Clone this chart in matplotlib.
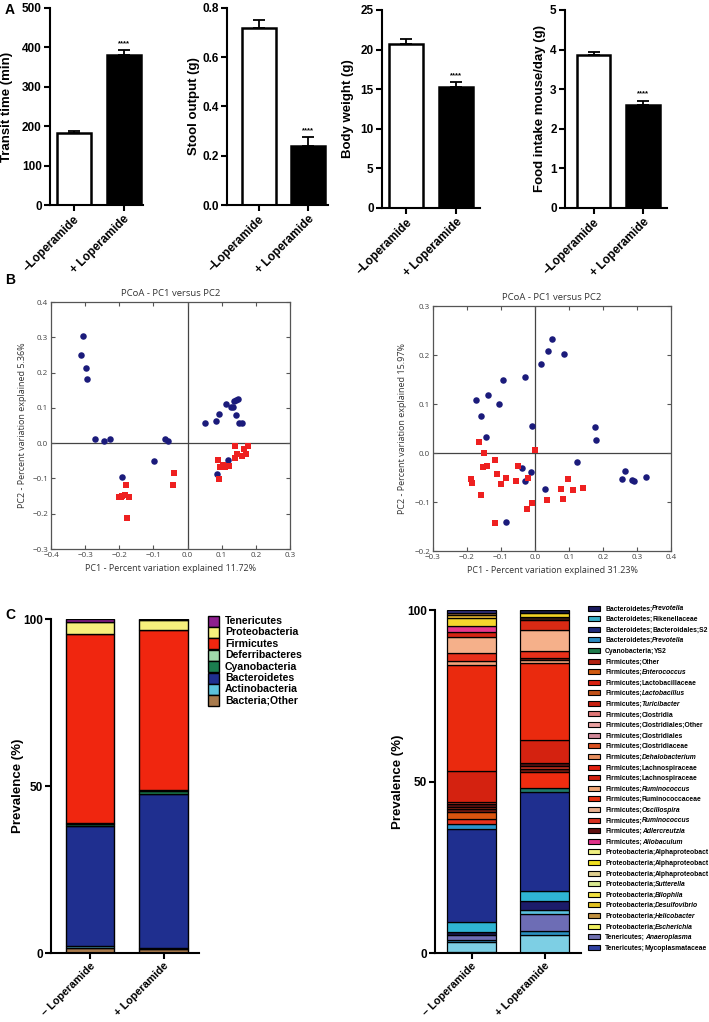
import matplotlib
matplotlib.use("Agg")
import matplotlib.pyplot as plt
from matplotlib.patches import Rectangle

plt.rcParams["font.family"] = ["Liberation Sans", "DejaVu Sans"]

# ---- panel A data (mean, sem) ----
groups_a = ["\u2013Loperamide", "+ Loperamide"]
transit_mean = [183, 380]
transit_sem = [4, 13]
stool_mean = [0.72, 0.24]
stool_sem = [0.03, 0.035]
weight_mean = [20.7, 15.3]
weight_sem = [0.6, 0.6]
food_mean = [3.87, 2.59]
food_sem = [0.08, 0.12]

# ---- panel B data (PC1, PC2) ----
b1_blue_x = [-0.305, -0.312, -0.297, -0.295, -0.270, -0.245, -0.226, -0.067, -0.056, -0.098,
             -0.192, 0.051, 0.082, 0.091, 0.113, 0.128, 0.132, 0.137, 0.142, 0.147,
             0.143, 0.151, 0.159, 0.118, 0.086]
b1_blue_y = [0.304, 0.251, 0.213, 0.183, 0.013, 0.006, 0.011, 0.013, 0.005, -0.051,
             -0.096, 0.057, 0.063, 0.084, 0.112, 0.103, 0.103, 0.120, 0.123, 0.125,
             0.080, 0.058, 0.058, -0.047, -0.087]
b1_red_x = [-0.200, -0.192, -0.184, -0.171, -0.179, -0.177, -0.196, -0.040, -0.044, 0.139,
            0.138, 0.146, 0.159, 0.165, 0.177, 0.171, 0.090, 0.095, 0.103, 0.111,
            0.122, 0.092]
b1_red_y = [-0.154, -0.149, -0.147, -0.154, -0.118, -0.211, -0.152, -0.086, -0.118, -0.008,
            -0.043, -0.032, -0.037, -0.016, -0.009, -0.030, -0.047, -0.067, -0.063, -0.067,
            -0.066, -0.101]

b2_blue_x = [0.051, 0.039, 0.085, 0.018, -0.028, -0.093, -0.139, -0.173, -0.105, -0.160,
             -0.009, -0.144, 0.177, 0.180, 0.124, -0.039, -0.013, -0.030, 0.028, -0.086,
             0.256, 0.266, 0.285, 0.291, 0.325]
b2_blue_y = [0.232, 0.208, 0.203, 0.181, 0.156, 0.149, 0.119, 0.109, 0.099, 0.075,
             0.055, 0.032, 0.054, 0.026, -0.018, -0.030, -0.039, -0.058, -0.074, -0.140,
             -0.054, -0.036, -0.055, -0.058, -0.048]
b2_red_x = [-0.165, -0.151, -0.154, -0.140, -0.118, -0.111, -0.084, -0.100, -0.187, -0.186,
            -0.159, -0.119, -0.057, -0.050, -0.022, -0.025, -0.008, 0.000, 0.035, 0.076,
            0.082, 0.096, 0.113, 0.141]
b2_red_y = [0.022, 0.000, -0.029, -0.027, -0.014, -0.042, -0.051, -0.063, -0.054, -0.062,
            -0.086, -0.142, -0.058, -0.026, -0.051, -0.115, -0.102, 0.006, -0.095, -0.073,
            -0.094, -0.053, -0.075, -0.071]

# ---- panel C data (prevalence %) ----
groups_c = ["\u2013 Loperamide", "+ Loperamide"]
phyla = ["Bacteria;Other", "Actinobacteria", "Bacteroidetes", "Cyanobacteria",
         "Deferribacteres", "Firmicutes", "Proteobacteria", "Tenericutes"]
phyla_colors = ["#a87a4c", "#5cc2dc", "#1f2f8f", "#1b7d4f", "#9fd8aa", "#f0260f",
                "#f7f07c", "#8e1f8e"]
phyla_minus = [1.5, 0.5, 35.9, 0.6, 0.3, 56.8, 3.6, 0.8]
phyla_plus = [1.3, 0.3, 46.0, 0.9, 0.3, 48.0, 3.0, 0.2]

genus_minus = [0.4, 2.8, 0.5, 1.5, 0.8, 2.9, 27.3, 1.4, 1.5, 2.1, 0.7, 0.8, 0.7, 0.7,
               9.0, 30.9, 1.0, 2.5, 4.6, 1.5, 1.8, 2.4, 0.8, 0.6, 0.8]
genus_minus_colors = ["#2b3a8c", "#7dcfe4", "#2a84b8", "#6d6db5", "#16184a", "#2fb4d4",
                      "#1f2f8f", "#2a95cc", "#e8321c", "#d9540f", "#7a1a10", "#a02818",
                      "#5a1010", "#c03020", "#d42210", "#ea2a0e", "#f2a27a", "#e8301a",
                      "#f5b08a", "#d42414", "#e8388c", "#f6d52c", "#e8b830", "#a06a3a",
                      "#2c2c7a"]
genus_plus = [5.3, 1.0, 5.2, 1.1, 2.7, 2.7, 28.8, 1.4, 4.7, 0.8, 0.9, 0.8, 6.7, 22.4,
              0.9, 0.6, 2.0, 6.2, 2.9, 0.9, 1.1, 0.9]
genus_plus_colors = ["#7dcfe4", "#2a90c0", "#6d6db5", "#5ac0dc", "#1c1c6a", "#2fb4d4",
                     "#1f2f8f", "#1e7a6a", "#ef2c10", "#7a1a10", "#c03020", "#5a1010",
                     "#d42210", "#ea2a0e", "#f2a27a", "#7a1a10", "#e8301a", "#f5b08a",
                     "#d82a14", "#3a1a10", "#f2d224", "#1a1a40"]

legend_phylum = ["Bacteroidetes", "Bacteroidetes", "Bacteroidetes", "Bacteroidetes",
                 "Cyanobacteria"] + ["Firmicutes"] * 18 + ["Proteobacteria"] * 8 + \
                ["Tenericutes"] * 2
legend_taxon = ["Prevotella", "Rikenellaceae", "Bacteroidales;S2", "Prevotella", "YS2",
                "Other", "Enterococcus", "Lactobacillaceae", "Lactobacillus", "Turicibacter",
                "Clostridia", "Clostridiales;Other", "Clostridiales", "Clostridiaceae",
                "Dehalobacterium", "Lachnospiraceae", "Lachnospiraceae", "Ruminococcus",
                "Ruminococcaceae", "Oscillospira", "Ruminococcus", "Adlercreutzia",
                "Allobaculum", "Alphaproteobact", "Alphaproteobact", "Alphaproteobact",
                "Sutterella", "Bilophila", "Desulfovibrio", "Helicobacter", "Escherichia",
                "Anaeroplasma", "Mycoplasmataceae"]
legend_italic = [1, 0, 0, 1, 0, 0, 1, 0, 1, 1, 0, 0, 0, 0, 1, 0, 0, 1, 0, 1, 1, 1, 1,
                 0, 0, 0, 1, 1, 1, 1, 1, 1, 0]
legend_colors = ["#1a1a5e", "#3ab0c8", "#1e2a7a", "#2a8ac0", "#1e7a4a", "#b02010",
                 "#d05a10", "#d82010", "#c05018", "#c82010", "#e07878", "#e8a0a0",
                 "#d08898", "#d85020", "#e89060", "#e02010", "#d02010", "#f0a878",
                 "#e83010", "#e8b090", "#d83020", "#601010", "#e0308a", "#f0f080",
                 "#f0e020", "#e0d090", "#d8e890", "#f0e040", "#e0c020", "#c09040",
                 "#f0f060", "#7070b0", "#3040a0"]

W, H = 709, 1022
fig = plt.figure(figsize=(W / 100, H / 100), dpi=100)


def box(l, t, r, b):
    return fig.add_axes([l / W, 1 - b / H, (r - l) / W, (b - t) / H])


def place_ylabel(ax, text, x_px, **kw):
    ax.set_ylabel(text, **kw)
    p = ax.get_position()
    ax.yaxis.set_label_coords((x_px / W - p.x0) / p.width, 0.5)


# ---------------- A ----------------
a_specs = [
    ((50, 8, 143, 205), transit_mean, transit_sem, 500, 100, "Transit time (min)", 13, (-0.47, 1.39), "{:.0f}"),
    ((227, 8, 328, 205), stool_mean, stool_sem, 0.8, 0.2, "Stool output (g)", 200, (-0.64, 1.40), "{:.1f}"),
    ((382, 10, 480, 208), weight_mean, weight_sem, 25, 5, "Body weight (g)", 354, (-0.48, 1.49), "{:.0f}"),
    ((565, 10, 667, 208), food_mean, food_sem, 5, 1, "Food intake mouse/day (g)", 546, (-0.58, 1.49), "{:.0f}"),
]
for rc, mean, sem, ymax, step, lab, lx, xl, fmt in a_specs:
    ax = box(*rc)
    xs = [0, 1]
    ax.bar(xs, mean, 0.68, color=["white", "black"], edgecolor="black", linewidth=1.8, zorder=2)
    ax.errorbar(xs, mean, yerr=[[0, 0], sem], fmt="none", ecolor="black",
                elinewidth=1.3, capsize=4.5, capthick=1.3, zorder=1)
    ax.text(1, mean[1] + sem[1] + ymax * 0.015, "****", ha="center", va="bottom",
            fontsize=5.5, fontweight="bold")
    ax.set_xlim(*xl)
    ax.set_ylim(0, ymax)
    ticks = [i * step for i in range(int(round(ymax / step)) + 1)]
    ax.set_yticks(ticks)
    ax.set_yticklabels([fmt.format(t) for t in ticks], fontsize=8.5, fontweight="bold")
    ax.set_xticks(xs)
    ax.set_xticklabels(groups_a, rotation=45, ha="right", rotation_mode="anchor",
                       fontsize=8.5, fontweight="bold")
    for s in ("top", "right"):
        ax.spines[s].set_visible(False)
    for s in ("left", "bottom"):
        ax.spines[s].set_linewidth(1.5)
    ax.tick_params(width=1.5, length=4, pad=2)
    place_ylabel(ax, lab, lx, fontsize=9.5, fontweight="bold")

# ---------------- B ----------------
BFONT = ["Open Sans", "DejaVu Sans"]
b_specs = [
    ((51, 302, 290, 549), b1_blue_x, b1_blue_y, b1_red_x, b1_red_y, (-0.4, 0.3), (-0.3, 0.4),
     "PC1 - Percent variation explained 11.72%", "PC2 - Percent variation explained 5.36%", 27),
    ((433, 306, 671, 551), b2_blue_x, b2_blue_y, b2_red_x, b2_red_y, (-0.3, 0.4), (-0.2, 0.3),
     "PC1 - Percent variation explained 31.23%", "PC2 - Percent variation explained 15.97%", 407),
]
for rc, bx, by, rx, ry, xl, yl, xlab, ylab, lx in b_specs:
    ax = box(*rc)
    ax.axhline(0, color="#444444", lw=0.9, zorder=1)
    ax.axvline(0, color="#444444", lw=0.9, zorder=1)
    ax.scatter(bx, by, s=22, marker="o", color="#1b1b7b", linewidths=0, zorder=3)
    ax.scatter(rx, ry, s=19, marker="s", color="#ee2020", linewidths=0, zorder=3)
    ax.set_xlim(*xl)
    ax.set_ylim(*yl)
    xt = [round(xl[0] + 0.1 * i, 1) for i in range(8)]
    yt = [round(yl[0] + 0.1 * i, 1) for i in range(6 if yl[0] == -0.2 else 8)]
    ax.set_xticks(xt)
    ax.set_yticks(yt)
    ax.set_xticklabels(["{:.1f}".format(v).replace("-", "\u2212") for v in xt],
                       fontsize=5.8, color="#444444", family=BFONT)
    ax.set_yticklabels(["{:.1f}".format(v).replace("-", "\u2212") for v in yt],
                       fontsize=5.8, color="#444444", family=BFONT)
    ax.tick_params(direction="in", top=True, right=True, length=3, width=0.8,
                   color="#555555", pad=2)
    for s in ax.spines.values():
        s.set_color("#555555")
        s.set_linewidth(0.9)
    ax.set_title("PCoA - PC1 versus PC2", fontsize=6.8, color="#333333", family=BFONT, pad=4)
    ax.set_xlabel(xlab, fontsize=6.5, color="#333333", family=BFONT, labelpad=4)
    place_ylabel(ax, ylab, lx, fontsize=6.5, color="#333333", family=BFONT)

# ---------------- C left ----------------
ax = box(51, 619, 199, 953)
for i, vals in enumerate([phyla_minus, phyla_plus]):
    bottom = 0
    for v, c in zip(vals, phyla_colors):
        ax.bar(i, v, 0.66, bottom=bottom, color=c, edgecolor="black", linewidth=1.0)
        bottom += v
ax.set_xlim(-0.53, 1.48)
ax.set_ylim(0, 100)
ax.set_yticks([0, 50, 100])
ax.set_yticklabels(["0", "50", "100"], fontsize=8.5, fontweight="bold")
ax.set_xticks([0, 1])
ax.set_xticklabels(groups_c, rotation=45, ha="right", rotation_mode="anchor",
                   fontsize=7.8, fontweight="bold")
for s in ("top", "right"):
    ax.spines[s].set_visible(False)
for s in ("left", "bottom"):
    ax.spines[s].set_linewidth(1.5)
ax.tick_params(width=1.5, length=4, pad=1.5)
place_ylabel(ax, "Prevalence (%)", 24, fontsize=9.5, fontweight="bold")

for k, (name, col) in enumerate(zip(phyla[::-1], phyla_colors[::-1])):
    yc = 621 + k * 11.4
    fig.patches.append(Rectangle((208 / W, 1 - (yc + 5.5) / H), 11 / W, 11 / H,
                                 transform=fig.transFigure, facecolor=col,
                                 edgecolor="black", linewidth=1.0))
    fig.text(225 / W, 1 - yc / H, name, fontsize=7.6, fontweight="bold", va="center")

# ---------------- C right ----------------
ax = box(435, 610, 581, 953)
for i, (vals, cols) in enumerate([(genus_minus, genus_minus_colors),
                                  (genus_plus, genus_plus_colors)]):
    bottom = 0
    for v, c in zip(vals, cols):
        ax.bar(i, v, 0.67, bottom=bottom, color=c, edgecolor="black", linewidth=0.9)
        bottom += v
ax.set_xlim(-0.5, 1.5)
ax.set_ylim(0, 100)
ax.set_yticks([0, 50, 100])
ax.set_yticklabels(["0", "50", "100"], fontsize=8.5, fontweight="bold")
ax.set_xticks([0, 1])
ax.set_xticklabels(groups_c, rotation=45, ha="right", rotation_mode="anchor",
                   fontsize=7.8, fontweight="bold")
for s in ("top", "right"):
    ax.spines[s].set_visible(False)
for s in ("left", "bottom"):
    ax.spines[s].set_linewidth(1.5)
ax.tick_params(width=1.5, length=4, pad=1.5)
place_ylabel(ax, "Prevalence (%)", 404, fontsize=9.5, fontweight="bold")

for k, (ph, tx, it, col) in enumerate(zip(legend_phylum, legend_taxon, legend_italic,
                                           legend_colors)):
    yc = 608 + k * 10.6
    fig.patches.append(Rectangle((588 / W, 1 - (yc + 2.5) / H), 12 / W, 5 / H,
                                 transform=fig.transFigure, facecolor=col,
                                 edgecolor="black", linewidth=0.8))
    t1 = fig.text(605 / W, 1 - yc / H, ph + ";", fontsize=4.9, fontweight="bold",
                  va="center_baseline")
    ax.annotate(tx, xy=(1, 0), xycoords=t1, va="bottom", ha="left", fontsize=4.9,
                fontweight="bold", style="italic" if it else "normal",
                annotation_clip=False)

# panel letters
fig.text(5 / W, 1 - 10 / H, "A", fontsize=10, fontweight="bold", va="center")
fig.text(5 / W, 1 - 280 / H, "B", fontsize=10, fontweight="bold", va="center")
fig.text(5 / W, 1 - 615 / H, "C", fontsize=10, fontweight="bold", va="center")

fig.savefig("out.png", dpi=100)
